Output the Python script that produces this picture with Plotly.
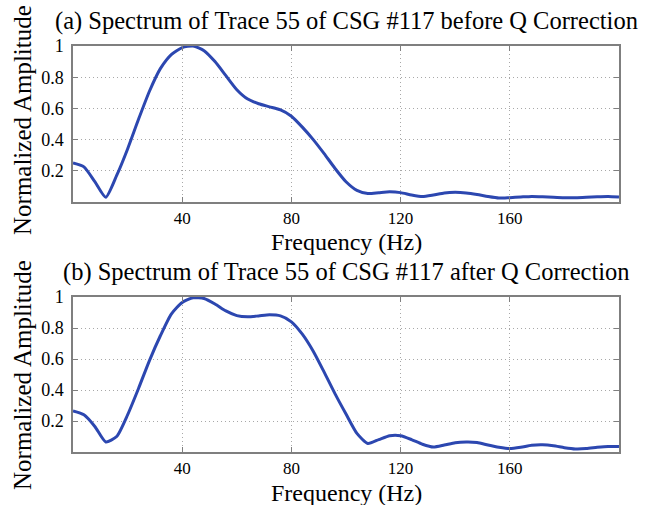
import plotly.graph_objects as go
from plotly.subplots import make_subplots

# Frequency axis (Hz) and normalized amplitude spectra of trace 55, CSG #117
freq = list(range(0, 201, 4))

amp_before = [
    0.25, 0.225, 0.13, 0.03, 0.17, 0.34, 0.53, 0.71, 0.855, 0.945,
    0.99, 1.0, 0.97, 0.90, 0.81, 0.72, 0.66, 0.63, 0.61, 0.59,
    0.55, 0.48, 0.40, 0.31, 0.215, 0.13, 0.075, 0.055, 0.06, 0.065,
    0.06, 0.045, 0.035, 0.045, 0.058, 0.062, 0.058, 0.048, 0.035, 0.025,
    0.028, 0.032, 0.036, 0.034, 0.03, 0.027, 0.027, 0.03, 0.034, 0.036,
    0.032,
]

amp_after = [
    0.265, 0.24, 0.165, 0.065, 0.10, 0.24, 0.41, 0.59, 0.75, 0.89,
    0.965, 0.995, 0.99, 0.955, 0.91, 0.88, 0.872, 0.878, 0.885, 0.878,
    0.84, 0.76, 0.65, 0.515, 0.375, 0.245, 0.12, 0.055, 0.08, 0.105,
    0.105, 0.08, 0.05, 0.032, 0.045, 0.06, 0.065, 0.062, 0.045, 0.03,
    0.022, 0.03, 0.043, 0.046, 0.04, 0.028, 0.02, 0.022, 0.03, 0.036,
    0.035,
]

panel_titles = [
    "(a) Spectrum of Trace 55 of CSG #117 before Q Correction",
    "(b) Spectrum of Trace 55 of CSG #117 after Q Correction",
]
x_ticks = [40, 80, 120, 160]
y_ticks = [0.2, 0.4, 0.6, 0.8, 1.0]
y_tick_text = ["0.2", "0.4", "0.6", "0.8", "1"]
x_label = "Frequency (Hz)"
y_label = "Normalized Amplitude"

W, H = 652, 505
ML, MR, MT, MB = 73, 33, 46, 53
plot_h = H - MT - MB
plot_w = W - ML - MR

def py(p):
    """pixel row -> paper y"""
    return (H - MB - p) / plot_h

def px(p):
    """pixel column -> paper x"""
    return (p - ML) / plot_w

serif = "Liberation Serif"
line_color = "#2c47b0"
axis_color = "#7f7f7f"
grid_color = "#a8a8a8"

fig = make_subplots(rows=2, cols=1)

for i, amp in enumerate([amp_before, amp_after], start=1):
    fig.add_trace(
        go.Scatter(x=freq, y=amp, mode="lines",
                   line=dict(color=line_color, width=3, shape="spline",
                             smoothing=0.6),
                   showlegend=False),
        row=i, col=1,
    )

domains = [[py(202), py(46)], [py(452), py(297)]]

for i in (1, 2):
    xa = dict(range=[0, 200], tickvals=x_ticks, ticks="inside", ticklen=5,
              tickcolor=axis_color, showline=True, linecolor=axis_color,
              linewidth=1.5, mirror="ticks", showgrid=True,
              gridcolor=grid_color, griddash="1px,3px", gridwidth=1,
              zeroline=False, tickfont=dict(family=serif, size=17, color="black"),
              ticklabelstandoff=0, fixedrange=True)
    ya = dict(range=[0, 1], tickvals=y_ticks, ticktext=y_tick_text,
              ticks="inside", ticklen=5, tickcolor=axis_color, showline=True,
              linecolor=axis_color, linewidth=1.5, mirror="ticks",
              showgrid=True, gridcolor=grid_color, griddash="1px,3px", gridwidth=1,
              zeroline=False, tickfont=dict(family=serif, size=18, color="black"),
              ticklabelstandoff=4, domain=domains[i - 1], fixedrange=True)
    fig.update_xaxes(**xa, row=i, col=1)
    fig.update_yaxes(**ya, row=i, col=1)

annotations = []
title_rows = [21, 272]
xlabel_rows = [242, 493]
ylabel_centres = [120, 375]
for k in range(2):
    annotations.append(dict(text=panel_titles[k], x=0.5, y=py(title_rows[k]),
                            xref="paper", yref="paper", xanchor="center",
                            yanchor="middle", showarrow=False,
                            font=dict(family=serif, size=24.5, color="black")))
    annotations.append(dict(text=x_label, x=0.5, y=py(xlabel_rows[k]),
                            xref="paper", yref="paper", xanchor="center",
                            yanchor="middle", showarrow=False,
                            font=dict(family=serif, size=24, color="black")))
    annotations.append(dict(text=y_label, x=px(22), y=py(ylabel_centres[k]),
                            xref="paper", yref="paper", xanchor="center",
                            yanchor="middle", textangle=-90, showarrow=False,
                            font=dict(family=serif, size=25, color="black")))

fig.update_layout(
    width=W, height=H,
    margin=dict(l=ML, r=MR, t=MT, b=MB),
    paper_bgcolor="white", plot_bgcolor="white",
    annotations=annotations,
)

fig.write_html("out.html")
